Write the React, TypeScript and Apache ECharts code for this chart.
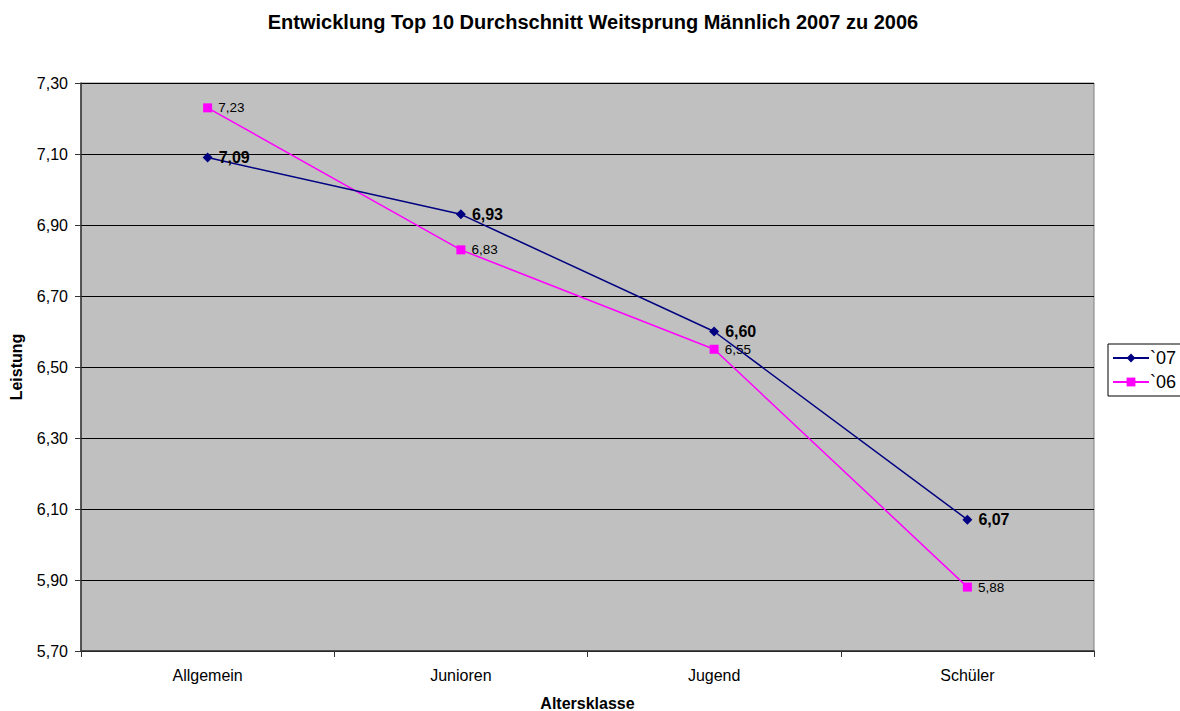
import React, { useEffect, useRef } from "react";
import * as echarts from "echarts";

const categories = ["Allgemein", "Junioren", "Jugend", "Schüler"];
const values07 = [7.09, 6.93, 6.6, 6.07];
const values06 = [7.23, 6.83, 6.55, 5.88];
const seriesNames = ["`07", "`06"];
const titleText = "Entwicklung Top 10 Durchschnitt Weitsprung Männlich 2007 zu 2006";
const yName = "Leistung";
const xName = "Altersklasse";

const fmt = (v: number) => v.toFixed(2).replace(".", ",");
const FONT = "Liberation Sans, Arial, sans-serif";

export default function App() {
  const ref = useRef<HTMLDivElement>(null);
  useEffect(() => {
    document.body.style.margin = "0";
    const chart = echarts.init(ref.current!, null, { renderer: "svg" });
    chart.setOption({
      animation: false,
      backgroundColor: "#ffffff",
      textStyle: { fontFamily: FONT },
      title: {
        text: titleText,
        left: 588,
        top: 7,
        textAlign: "center",
        textStyle: { fontFamily: FONT, fontSize: 20, fontWeight: "bold", color: "#000" },
      },
      legend: {
        orient: "vertical",
        left: 1108,
        top: 344,
        itemGap: 6,
        itemWidth: 36,
        itemHeight: 11,
        padding: [5, 8, 5, 4],
        borderColor: "#000",
        borderWidth: 1,
        textStyle: { fontFamily: FONT, fontSize: 18, color: "#000", padding: [0, 0, 0, -4] },
        data: seriesNames,
      },
      grid: {
        left: 81,
        right: 86,
        top: 83,
        bottom: 60,
        containLabel: false,
        outerBoundsMode: "none",
        show: true,
        backgroundColor: "#c0c0c0",
        borderColor: "#808080",
        borderWidth: 1,
      },
      xAxis: {
        type: "category",
        data: categories,
        boundaryGap: true,
        name: xName,
        nameLocation: "middle",
        nameGap: 44,
        nameTextStyle: { fontFamily: FONT, fontSize: 16, fontWeight: "bold", color: "#000" },
        axisLine: { lineStyle: { color: "#333", width: 1.5 } },
        axisTick: { show: true, alignWithLabel: false, length: 6, lineStyle: { color: "#333" } },
        axisLabel: { fontFamily: FONT, fontSize: 16, color: "#000", margin: 16 },
        splitLine: { show: false },
      },
      yAxis: {
        type: "value",
        min: 5.7,
        max: 7.3,
        interval: 0.2,
        name: yName,
        nameLocation: "middle",
        nameGap: 57,
        nameRotate: 90,
        nameTextStyle: { fontFamily: FONT, fontSize: 16, fontWeight: "bold", color: "#000" },
        axisLine: { show: true, lineStyle: { color: "#333", width: 1.5 } },
        axisTick: { show: true, length: 6, lineStyle: { color: "#333" } },
        axisLabel: { fontFamily: FONT, fontSize: 16, color: "#000", margin: 13, formatter: (v: number) => fmt(v) },
        splitLine: { show: true, lineStyle: { color: "#000", width: 1 } },
      },
      series: [
        {
          name: seriesNames[0],
          type: "line",
          data: values07,
          color: "#000080",
          symbol: "diamond",
          symbolSize: 10,
          lineStyle: { color: "#000080", width: 1.5 },
          itemStyle: { color: "#000080" },
          label: {
            show: true,
            position: "right",
            distance: 6,
            formatter: (p: any) => fmt(p.value),
            fontFamily: FONT,
            fontSize: 16,
            fontWeight: "bold",
            color: "#000",
          },
          z: 3,
        },
        {
          name: seriesNames[1],
          type: "line",
          data: values06,
          color: "#ff00ff",
          symbol: "rect",
          symbolSize: 9,
          lineStyle: { color: "#ff00ff", width: 1.5 },
          itemStyle: { color: "#ff00ff" },
          label: {
            show: true,
            position: "right",
            distance: 6,
            formatter: (p: any) => fmt(p.value),
            fontFamily: FONT,
            fontSize: 13.5,
            color: "#000",
          },
          z: 2,
        },
      ],
    });
    return () => chart.dispose();
  }, []);
  return <div ref={ref} style={{ width: 1180, height: 711 }} />;
}
